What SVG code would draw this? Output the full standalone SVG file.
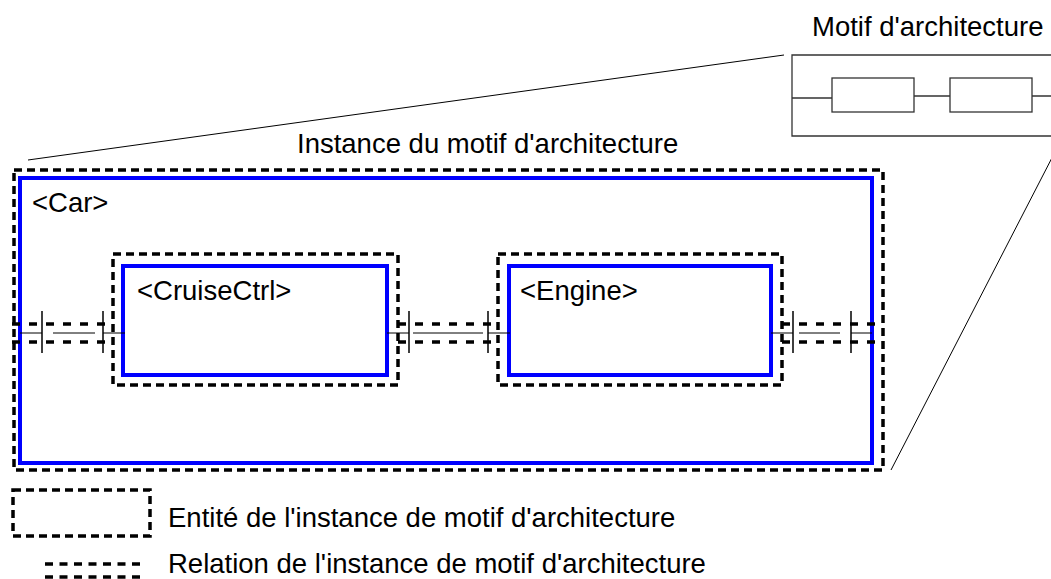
<svg xmlns="http://www.w3.org/2000/svg" width="1051" height="579" viewBox="0 0 1051 579">
<style>
text{font-family:"Liberation Sans",Arial,sans-serif;font-size:27.5px;fill:#000}
.ent{fill:none;stroke:#000;stroke-width:3.5;stroke-dasharray:8 5}
.blk{fill:none;stroke:#0000ff;stroke-width:4}
.rel{fill:none;stroke:#000;stroke-width:3.5;stroke-dasharray:8 9}
.thin{fill:none;stroke:#000;stroke-width:1}
.tick{fill:none;stroke:#000;stroke-width:1.5}
.pat{fill:none;stroke:#333;stroke-width:1.3}
</style>
<g id="pattern">
<text x="812" y="36">Motif d'architecture</text>
<path class="pat" d="M1051 55H792V136H1051"/>
<rect class="pat" x="832" y="78" width="82" height="34"/>
<rect class="pat" x="950" y="78" width="82" height="34"/>
<path class="pat" d="M792 98H832M914 96H950M1032 96H1051"/>
</g>
<g id="zoom-lines">
<path class="thin" d="M28 160L784 55M1056 150L891 470"/>
</g>
<g id="car">
<text x="297" y="153">Instance du motif d'architecture</text>
<rect class="ent" x="14" y="170" width="869" height="300"/>
<rect class="blk" x="20" y="178" width="852" height="285"/>
<text x="32" y="212">&lt;Car&gt;</text>
</g>
<g id="cruisectrl">
<rect class="ent" x="113" y="254" width="285" height="131"/>
<rect class="blk" x="123" y="266" width="264" height="109"/>
<text x="137" y="300">&lt;CruiseCtrl&gt;</text>
</g>
<g id="engine">
<rect class="ent" x="498" y="254" width="284" height="131"/>
<rect class="blk" x="509" y="266" width="262" height="109"/>
<text x="520" y="300">&lt;Engine&gt;</text>
</g>
<g id="connectors">
<path class="rel" d="M12 324H106M12 342H106"/>
<path class="thin" d="M20 333H42M53 333H95M103 333H125"/>
<path class="tick" d="M42 311V353M103 311V353"/>
<path class="rel" d="M398 324H496M398 342H496"/>
<path class="thin" d="M387 333H409M413 333H483M488 333H510"/>
<path class="tick" d="M409 311V353M488 311V353"/>
<path class="rel" d="M782 324H880M782 342H880"/>
<path class="thin" d="M771 333H793M799 333H840M851 333H872"/>
<path class="tick" d="M793 311V353M851 311V353"/>
</g>
<g id="legend">
<rect class="ent" x="13" y="490" width="137" height="46"/>
<text x="168" y="527">Entité de l'instance de motif d'architecture</text>
<path class="rel" d="M45 564H140M45 577H140" style="stroke-dasharray:8 6.5"/>
<text x="168" y="573">Relation de l'instance de motif d'architecture</text>
</g>
</svg>
